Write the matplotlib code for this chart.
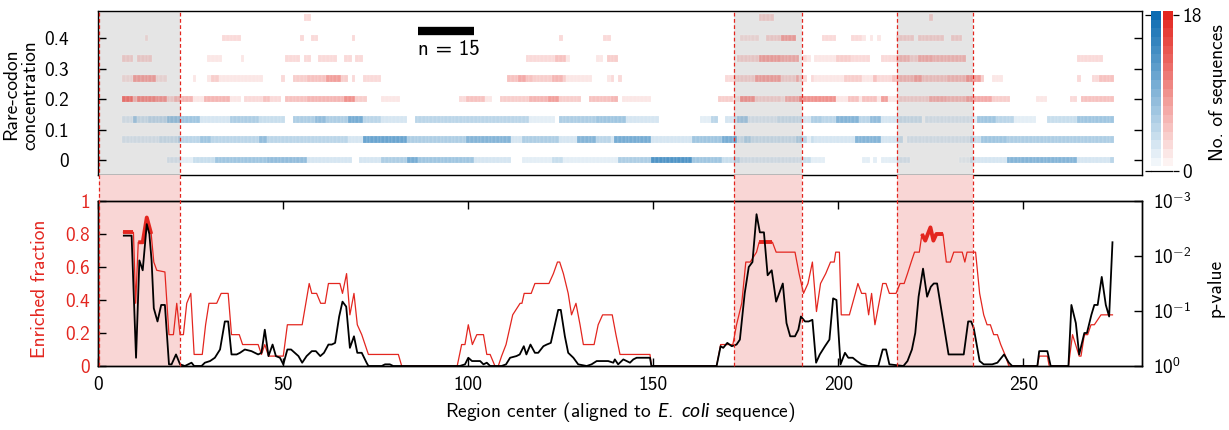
import numpy as np
import matplotlib
matplotlib.use("Agg")
import matplotlib.pyplot as plt
import matplotlib.transforms as mtransforms
from matplotlib.lines import Line2D
from matplotlib.colors import to_rgb

plt.rcParams.update({
    "font.family": ["cmss10", "DejaVu Sans"],
    "mathtext.fontset": "custom",
    "mathtext.rm": "cmss10",
    "mathtext.sf": "cmss10",
    "mathtext.it": "Lato:italic",
    "axes.unicode_minus": False,
    "font.size": 14,
    "axes.linewidth": 1.0,
})

RED = "#e3261f"
BLUE = "#0c6cb2"
GRAY = "#e5e5e5"
PINK = "#f9d6d5"

# ---------------------------------------------------------------- data
# rare-codon concentration levels (rows of the heat map)
conc_levels = np.arange(8) / 15.0
max_count = 18

# number of sequences per region center, as runs (first x, last x, count)
conc_row0 = [(19, 25, 2), (26, 31, 4), (32, 45, 7), (46, 56, 8), (57, 68, 3), (71, 76, 3),
             (77, 83, 6), (84, 86, 10), (87, 101, 7), (102, 111, 3), (115, 122, 2),
             (123, 125, 4), (126, 140, 2), (141, 149, 6), (150, 160, 13), (161, 168, 7),
             (169, 173, 4), (174, 190, 2), (191, 192, 4), (193, 196, 2), (207, 208, 2),
             (210, 210, 2), (212, 219, 2), (233, 235, 1), (236, 245, 3), (246, 264, 9),
             (265, 273, 3), (274, 274, 5)]
conc_row1 = [(7, 16, 2), (17, 21, 3), (22, 27, 5), (28, 30, 7), (31, 43, 5), (44, 45, 8),
             (46, 67, 5), (68, 71, 3), (72, 83, 11), (84, 99, 6), (100, 111, 9), (112, 114, 3),
             (115, 124, 6), (125, 129, 3), (130, 134, 9), (135, 138, 5), (139, 139, 3),
             (140, 149, 10), (150, 160, 3), (161, 168, 7), (169, 172, 10), (173, 174, 3),
             (175, 176, 5), (177, 188, 3), (189, 191, 5), (192, 192, 2), (193, 193, 4),
             (194, 204, 3), (205, 211, 9), (212, 217, 3), (219, 235, 2), (236, 238, 4),
             (239, 245, 7), (246, 274, 6)]
conc_row2 = [(7, 9, 2), (10, 10, 6), (11, 13, 3), (14, 18, 4), (19, 27, 7), (28, 35, 3),
             (36, 43, 6), (44, 50, 4), (53, 58, 6), (59, 61, 8), (62, 67, 6), (68, 71, 10),
             (72, 76, 5), (77, 83, 3), (86, 116, 5), (117, 123, 2), (125, 134, 6),
             (135, 142, 7), (143, 151, 3), (163, 165, 2), (166, 167, 5), (170, 172, 3),
             (173, 175, 6), (176, 183, 2), (184, 192, 3), (193, 195, 6), (196, 199, 5),
             (200, 205, 9), (206, 208, 5), (209, 211, 8), (212, 222, 3), (224, 237, 2),
             (238, 242, 7), (243, 247, 5), (248, 253, 2), (257, 264, 4), (265, 274, 7)]
conc_row3 = [(7, 9, 11), (10, 10, 5), (11, 15, 9), (16, 18, 8), (19, 20, 3), (21, 22, 5),
             (23, 25, 6), (26, 28, 2), (29, 35, 6), (36, 38, 2), (40, 44, 3), (45, 46, 5),
             (47, 49, 3), (51, 56, 5), (57, 66, 6), (67, 69, 9), (70, 72, 4), (77, 81, 2),
             (98, 99, 3), (100, 104, 5), (105, 106, 2), (109, 116, 4), (117, 121, 6),
             (122, 124, 8), (125, 130, 4), (133, 138, 5), (139, 140, 6), (142, 149, 2),
             (168, 171, 4), (172, 173, 2), (174, 177, 8), (178, 184, 3), (185, 185, 2),
             (186, 189, 6), (190, 199, 9), (200, 202, 2), (203, 205, 5), (206, 206, 2),
             (207, 210, 5), (211, 211, 2), (212, 213, 8), (214, 216, 2), (217, 224, 3),
             (225, 229, 6), (230, 234, 5), (235, 241, 7), (242, 246, 4), (254, 256, 2),
             (263, 264, 3), (266, 274, 5)]
conc_row4 = [(7, 9, 2), (10, 15, 7), (16, 18, 2), (26, 26, 2), (30, 30, 2), (31, 32, 4),
             (33, 44, 2), (50, 50, 3), (53, 56, 4), (57, 61, 5), (62, 65, 8), (66, 67, 4),
             (69, 69, 3), (72, 76, 3), (111, 113, 5), (114, 115, 7), (116, 117, 5),
             (118, 122, 4), (123, 125, 6), (126, 126, 4), (127, 133, 2), (138, 138, 2),
             (139, 139, 3), (141, 141, 3), (170, 177, 3), (178, 184, 7), (185, 188, 3),
             (189, 189, 6), (190, 191, 3), (193, 193, 3), (194, 201, 2), (202, 206, 4),
             (207, 209, 2), (210, 210, 5), (211, 214, 3), (215, 220, 5), (221, 222, 7),
             (223, 229, 4), (230, 234, 5), (235, 238, 8), (239, 239, 4), (242, 244, 2),
             (265, 265, 3), (269, 270, 3), (271, 274, 5)]
conc_row5 = [(7, 9, 3), (11, 14, 3), (30, 32, 2), (33, 33, 2), (39, 39, 2), (51, 54, 3),
             (56, 57, 3), (60, 64, 3), (67, 68, 3), (70, 71, 3), (116, 123, 3), (124, 126, 5),
             (127, 127, 2), (135, 136, 2), (138, 140, 4), (173, 178, 3), (179, 184, 7),
             (185, 189, 6), (191, 191, 3), (192, 192, 2), (194, 199, 2), (200, 203, 4),
             (204, 208, 3), (212, 215, 3), (216, 219, 5), (220, 221, 3), (222, 225, 6),
             (226, 234, 5), (265, 271, 3)]
conc_row6 = [(13, 13, 2), (34, 38, 3), (55, 55, 3), (58, 59, 3), (69, 69, 3), (125, 125, 3),
             (137, 138, 3), (174, 178, 2), (181, 184, 3), (185, 188, 7), (196, 199, 3),
             (204, 206, 3), (207, 207, 2), (209, 209, 2), (211, 211, 2), (216, 220, 3),
             (222, 228, 3), (231, 233, 3)]
conc_row7 = [(56, 57, 3), (179, 182, 3), (225, 225, 3)]
conc_rows = [conc_row0, conc_row1, conc_row2, conc_row3,
             conc_row4, conc_row5, conc_row6, conc_row7]

# enriched fraction along the sequence
frac_x = [6.8, 9.5, 10.1, 10.8, 12.0, 13.1, 14.3, 15.0, 15.8, 18.0, 19.1, 20.3, 21.2, 22.1,
          23.0, 23.9, 25.0, 25.9, 28.1, 29.0, 29.9, 32.0, 33.2, 35.1, 36.0, 38.1, 39.0, 43.2,
          44.1, 45.0, 46.0, 50.0, 51.1, 55.1, 57.0, 57.7, 59.0, 60.1, 61.3, 62.2, 65.3, 66.0,
          67.1, 68.0, 69.1, 70.0, 71.2, 73.0, 81.1, 82.0, 97.0, 98.2, 99.1, 100.0, 101.1,
          102.3, 104.1, 105.0, 105.9, 107.2, 108.1, 109.0, 110.2, 112.0, 114.0, 114.5, 115.1,
          117.0, 118.0, 121.8, 123.0, 124.1, 124.7, 125.7, 127.0, 127.9, 129.1, 130.2, 131.1,
          134.0, 135.1, 136.3, 138.9, 139.9, 141.0, 149.1, 149.5, 167.1, 168.2, 171.5, 172.5,
          173.9, 175.0, 176.2, 177.9, 178.6, 182.2, 183.2, 188.3, 189.4, 190.6, 191.8, 193.0,
          194.1, 195.2, 196.6, 197.9, 198.9, 199.3, 200.3, 200.8, 203.0, 204.6, 205.3, 206.3,
          207.4, 208.2, 209.0, 209.9, 212.0, 212.9, 213.8, 215.6, 216.7, 217.8, 218.7, 219.7,
          220.6, 221.9, 222.6, 223.5, 224.9, 225.7, 226.5, 228.3, 229.2, 230.3, 231.2, 233.5,
          234.2, 234.8, 237.1, 238.2, 239.3, 240.2, 241.1, 242.0, 243.0, 243.9, 245.2, 246.1,
          253.8, 254.3, 256.5, 257.0, 262.2, 263.3, 265.1, 265.6, 266.5, 267.4, 268.3, 269.2,
          271.0, 274.1]
frac_y = [0.81, 0.81, 0.38, 0.75, 0.75, 0.90, 0.80, 0.63, 0.58, 0.57, 0.19, 0.19, 0.38, 0.19,
          0.19, 0.38, 0.44, 0.07, 0.07, 0.25, 0.38, 0.38, 0.44, 0.44, 0.19, 0.19, 0.13, 0.13,
          0.07, 0.13, 0.06, 0.06, 0.25, 0.25, 0.50, 0.44, 0.44, 0.38, 0.38, 0.50, 0.50, 0.44,
          0.56, 0.31, 0.44, 0.25, 0.19, 0.07, 0.07, 0.0, 0.0, 0.13, 0.13, 0.25, 0.13,
          0.19, 0.19, 0.07, 0.07, 0.0, 0.0, 0.06, 0.13, 0.31, 0.38, 0.38, 0.44,
          0.44, 0.50, 0.50, 0.56, 0.63, 0.63, 0.56, 0.44, 0.31, 0.38, 0.25, 0.13,
          0.13, 0.25, 0.31, 0.31, 0.19, 0.07, 0.07, 0.0, 0.0, 0.13, 0.13, 0.25,
          0.38, 0.63, 0.63, 0.69, 0.75, 0.75, 0.69, 0.69, 0.56, 0.44, 0.50, 0.63,
          0.33, 0.50, 0.56, 0.63, 0.63, 0.69, 0.69, 0.31, 0.31, 0.44, 0.50, 0.44,
          0.44, 0.31, 0.44, 0.25, 0.50, 0.50, 0.44, 0.44, 0.50, 0.50, 0.56, 0.63,
          0.69, 0.69, 0.80, 0.76, 0.84, 0.76, 0.80, 0.80, 0.63, 0.63, 0.69, 0.69,
          0.63, 0.69, 0.69, 0.44, 0.31, 0.25, 0.25, 0.19, 0.19, 0.13, 0.06, 0.0,
          0.0, 0.06, 0.06, 0.0, 0.0, 0.19, 0.06, 0.06, 0.19, 0.19, 0.25, 0.25,
          0.31, 0.31]

# stretches where the enriched fraction is significant
sig_a_x, sig_a_y = [6.8, 9.5], [0.81, 0.81]
sig_b_x, sig_b_y = [10.8, 12.0, 13.1, 14.3], [0.75, 0.75, 0.90, 0.80]
sig_c_x, sig_c_y = [178.6, 182.2], [0.75, 0.75]
sig_d_x, sig_d_y = [222.6, 223.5, 224.9, 225.7, 226.5, 228.3], [0.80, 0.76, 0.84, 0.76, 0.80, 0.80]

# p-value along the sequence, as -log10(p)
pval_x = [6.9, 9.0, 10.2, 11.1, 12.0, 13.1, 13.8, 14.4, 15.0, 16.0, 17.0, 18.0, 19.1, 19.8,
          21.0, 22.1, 23.4, 25.2, 25.9, 27.9, 28.8, 30.2, 31.5, 32.9, 34.2, 35.1, 36.0, 37.4,
          38.3, 39.6, 41.4, 43.2, 44.1, 45.0, 46.0, 47.1, 48.0, 49.1, 50.0, 51.1, 52.1, 54.1,
          55.1, 56.3, 57.7, 58.8, 60.0, 61.0, 62.2, 63.1, 64.0, 65.1, 66.0, 67.0, 68.0, 69.1,
          70.0, 71.2, 72.5, 73.0, 76.6, 77.5, 78.8, 79.7, 97.7, 99.1, 100.0, 101.0, 103.2,
          104.1, 105.0, 105.9, 109.0, 110.2, 111.3, 113.0, 113.9, 115.0, 115.7, 116.8, 118.0,
          118.9, 120.3, 121.2, 122.3, 123.4, 124.3, 125.0, 126.1, 127.0, 128.4, 129.7, 132.0,
          133.3, 134.7, 137.8, 139.2, 139.6, 140.5, 141.9, 143.7, 144.6, 145.5, 149.1, 149.5,
          167.1, 168.2, 168.9, 170.0, 171.2, 172.5, 173.4, 174.7, 175.8, 176.8, 177.9, 178.8,
          179.9, 180.9, 182.0, 183.2, 185.0, 186.0, 187.0, 188.3, 189.2, 189.9, 191.0, 192.0,
          193.0, 194.0, 195.0, 196.4, 197.6, 198.6, 199.5, 200.6, 201.8, 202.7, 203.9, 205.0,
          206.3, 208.1, 210.8, 212.0, 212.9, 213.8, 217.6, 218.7, 219.9, 220.8, 221.7, 222.9,
          224.0, 225.0, 225.8, 226.7, 228.5, 229.8, 233.9, 235.1, 235.9, 236.6, 238.2, 239.3,
          241.6, 243.0, 244.8, 246.1, 247.0, 253.8, 254.3, 256.5, 257.4, 262.2, 263.0, 264.2,
          265.1, 266.5, 267.2, 268.4, 269.2, 270.1, 271.2, 272.3, 273.2, 274.1]
pval_neglog = [2.37, 2.37, 0.15, 1.92, 1.74, 2.58, 2.40, 1.92, 1.05, 0.81, 1.11, 1.11, 0.03,
               0.03, 0.21, 0.03, 0.0, 0.06, 0.0, 0.0, 0.06, 0.09, 0.15, 0.30, 0.81, 0.81,
               0.21, 0.21, 0.24, 0.30, 0.27, 0.21, 0.24, 0.66, 0.18, 0.39, 0.18, 0.15, 0.03,
               0.30, 0.30, 0.18, 0.06, 0.18, 0.27, 0.27, 0.18, 0.24, 0.39, 0.39, 0.42, 0.90,
               1.17, 1.08, 0.33, 0.54, 0.24, 0.24, 0.06, 0.0, 0.0, 0.03, 0.03, 0.0, 0.0,
               0.03, 0.15, 0.09, 0.09, 0.03, 0.06, 0.0, 0.0, 0.03, 0.15, 0.18, 0.21, 0.36,
               0.21, 0.39, 0.24, 0.24, 0.36, 0.39, 0.42, 0.75, 1.02, 1.02, 0.54, 0.24, 0.15,
               0.03, 0.0, 0.03, 0.09, 0.09, 0.06, 0.12, 0.03, 0.12, 0.06, 0.12, 0.15, 0.15,
               0.0, 0.0, 0.36, 0.33, 0.42, 0.36, 0.39, 0.48, 1.32, 1.80, 1.89, 2.76, 2.43,
               2.43, 1.65, 1.74, 1.17, 1.50, 0.78, 0.54, 0.54, 0.66, 0.90, 0.81, 0.81, 0.84,
               0.06, 0.21, 0.36, 0.48, 1.23, 1.20, 0.03, 0.24, 0.15, 0.15, 0.09, 0.03, 0.0,
               0.0, 0.30, 0.30, 0.03, 0.0, 0.09, 0.30, 0.60, 1.26, 1.77, 1.26, 1.44, 1.50,
               1.50, 0.75, 0.21, 0.21, 0.81, 0.81, 0.69, 0.09, 0.03, 0.03, 0.06, 0.21, 0.06,
               0.0, 0.0, 0.27, 0.27, 0.0, 0.0, 1.11, 0.78, 0.21, 0.60, 0.60, 0.93, 1.11,
               1.11, 1.62, 1.11, 0.90, 2.25]

# enriched regions
region_bounds = [(0.3, 22.2), (171.8, 190.2), (215.9, 236.3)]

x_ticks = [0, 50, 100, 150, 200, 250]
conc_ticks = [0, 0.1, 0.2, 0.3, 0.4]
conc_tick_labels = ["0", "0.1", "0.2", "0.3", "0.4"]
frac_ticks = [0, 0.2, 0.4, 0.6, 0.8, 1.0]
frac_tick_labels = ["0", "0.2", "0.4", "0.6", "0.8", "1"]
pval_ticks = [0, 1, 2, 3]
pval_tick_labels = [r"$10^{0}$", r"$10^{-1}$", r"$10^{-2}$", r"$10^{-3}$"]
window_size = 15

# ---------------------------------------------------------------- figure
W, H = 1229, 430
fig = plt.figure(figsize=(W / 100, H / 100), dpi=100)

ax_top = fig.add_axes([98.3 / W, 1 - 175 / H, (1141.7 - 98.3) / W, 164 / H])
ax_bot = fig.add_axes([98.3 / W, 1 - 366 / H, (1141.7 - 98.3) / W, 165 / H])
cax = fig.add_axes([1150.7 / W, 1 - 175 / H, 22.3 / W, 164 / H])

XMAX = 282

# --- heat map of rare-codon concentration
ax_top.set_xlim(0, XMAX)
ax_top.set_ylim(-0.049, 0.489)
for a, b in region_bounds:
    ax_top.axvspan(a, b, color=GRAY, lw=0, zorder=0)

x_cells = np.arange(0, XMAX + 1)
for k, runs in enumerate(conc_rows):
    counts = np.zeros(len(x_cells))
    for a, b, n in runs:
        counts[a:b + 1] = n
    base = to_rgb(BLUE) if conc_levels[k] < 0.19 else to_rgb(RED)
    m = counts > 0
    cols = [(*base, n / max_count) for n in counts[m]]
    ax_top.bar(x_cells[m], 0.022, bottom=conc_levels[k] - 0.011, width=1.0,
               color=cols, edgecolor=(1, 1, 1, 0.35), linewidth=0.3, zorder=2)

ax_top.set_xticks([])
ax_top.set_yticks(conc_ticks)
ax_top.set_yticklabels(conc_tick_labels)
ax_top.tick_params(axis="y", direction="in", left=True, right=True, length=6, width=1, pad=21)
ax_top.set_ylabel("Rare-codon\nconcentration", ha="center", va="center", linespacing=1.1)
ax_top.yaxis.set_label_coords(-0.0745, 0.49)

# window-size scale bar
ax_top.plot([86.5, 86.5 + window_size], [0.424, 0.424], color="black", lw=6,
            solid_capstyle="butt", zorder=4)
ax_top.text(86.4, 0.344, "n = %d" % window_size, fontsize=15, ha="left", va="baseline",
            zorder=4)

# --- colour bar
lv = np.arange(max_count + 1)
for x0, base in [(0.0, to_rgb(BLUE)), (1.17, to_rgb(RED))]:
    cax.bar(np.full(len(lv), x0 + 0.5), 1.0, bottom=lv - 0.5, width=1.0,
            color=[(*base, n / max_count) for n in lv], linewidth=0, zorder=2)
cax.axhline(0, color="black", lw=0.9, zorder=1)
cax.set_xlim(0, 2.17)
cax.set_ylim(-0.5, max_count + 0.5)
for s in cax.spines.values():
    s.set_visible(False)
cax.set_xticks([])
cax.set_yticks([0, max_count])
cax.yaxis.tick_right()
cax.tick_params(axis="y", left=True, right=True, labelleft=False, labelright=True,
                direction="out", length=4, width=0.9, pad=3)
cax.set_ylabel("No. of sequences", ha="center", va="center")
cax.yaxis.set_label_position("right")
cax.yaxis.set_label_coords(2.6, 0.5)

# --- enriched fraction and p-value
ax_bot.set_xlim(0, XMAX)
ax_bot.set_ylim(0, 1)
for a, b in region_bounds:
    sp = ax_bot.axvspan(a, b, ymin=0, ymax=1.158, color=PINK, lw=0, zorder=0)
    sp.set_clip_on(False)

ax_bot.plot(frac_x, frac_y, color=RED, lw=0.9, zorder=3)
for sx, sy in [(sig_a_x, sig_a_y), (sig_b_x, sig_b_y), (sig_c_x, sig_c_y), (sig_d_x, sig_d_y)]:
    ax_bot.plot(sx, sy, color=RED, lw=2.8, solid_capstyle="butt", solid_joinstyle="round",
                zorder=4)

ax_bot.set_xticks(x_ticks)
ax_bot.set_xticklabels([str(t) for t in x_ticks])
ax_bot.set_yticks(frac_ticks)
ax_bot.set_yticklabels(frac_tick_labels)
ax_bot.tick_params(axis="x", direction="in", top=True, bottom=True, length=6, width=1, pad=7)
ax_bot.tick_params(axis="y", direction="in", left=True, length=6, width=1, pad=6,
                   labelcolor=RED)
ax_bot.set_xlabel(r"Region center (aligned to $\mathit{E.\ coli}$ sequence)")
ax_bot.xaxis.set_label_coords(0.5, -0.279)
ax_bot.xaxis.label.set_va("center")
ax_bot.set_ylabel("Enriched fraction", color=RED, ha="center", va="center")
ax_bot.yaxis.set_label_coords(-0.056, 0.47)

ax_p = ax_bot.twinx()
ax_p.set_ylim(0, 3)
ax_p.plot(pval_x, pval_neglog, color="black", lw=1.3, zorder=5)
ax_p.set_yticks(pval_ticks)
ax_p.set_yticklabels(pval_tick_labels)
ax_p.tick_params(axis="y", direction="in", right=True, length=6, width=1, pad=8)
ax_p.set_ylabel("p-value", ha="center", va="center")
ax_p.yaxis.set_label_coords(1.071, 0.476)

# --- dashed region borders spanning both panels
tr = mtransforms.blended_transform_factory(ax_bot.transData, fig.transFigure)
for a, b in region_bounds:
    for xv in (a, b):
        fig.add_artist(Line2D([xv, xv], [1 - 366 / H, 1 - 11 / H], transform=tr,
                              color=RED, lw=0.9, ls=(0, (3, 2)), zorder=10))

fig.savefig("out.png", dpi=100)
